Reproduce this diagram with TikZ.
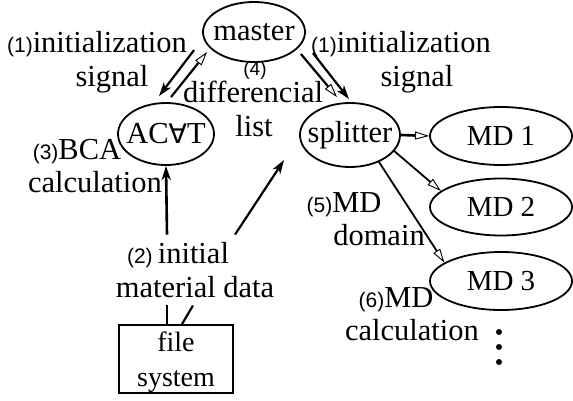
\documentclass[tikz,border=0pt]{standalone}
\usepackage{fontspec}
\setmainfont{Liberation Serif}
\newfontfamily\pnfont{Liberation Sans}
\newfontfamily\djv{DejaVu Sans}
\usetikzlibrary{shapes.geometric,arrows.meta}
\newcommand\pn[1]{{\pnfont\fontsize{21}{21}\selectfont(#1)}}
\newcommand\zwbox[1]{\makebox[0pt]{#1}}
\begin{document}
\begin{tikzpicture}[x=1pt,y=-1pt,font=\fontsize{30.5}{35}\selectfont,
  ell/.style={ellipse,draw,line width=1.8pt,inner sep=0pt},
  mdf/.style={font=\fontsize{29}{35}\selectfont},
  lab/.style={anchor=base,inner sep=0pt},
  ln/.style={line width=2.2pt},
  bh/.style={-{Stealth[length=14pt,width=9pt,inset=4pt]}},
  oh/.style={-{Triangle[length=14pt,width=8pt,fill=white,line width=0.9pt]}}]
\useasboundingbox (0,0) rectangle (573,401);
% nodes
\node[ell,minimum width=102pt,minimum height=60pt] (master) at (254,32) {\zwbox{master}};
\node[ell,minimum width=96pt,minimum height=62pt] (acvt) at (166,134) {\zwbox{AC{\djv\fontsize{27}{30}\selectfont ∀}T}};
\node[ell,minimum width=100pt,minimum height=64pt] (splitter) at (350,135) {\zwbox{splitter}};
\node[ell,mdf,minimum width=142pt,minimum height=58pt] (md1) at (501,136) {\zwbox{MD 1}};
\node[ell,mdf,minimum width=142pt,minimum height=57pt] (md2) at (501,207) {\zwbox{MD 2}};
\node[ell,mdf,minimum width=142pt,minimum height=58pt] (md3) at (501,281) {\zwbox{MD 3}};
\node[draw,line width=1.8pt,minimum width=114pt,minimum height=68pt,align=center,inner sep=0pt,
  text depth=0pt,font=\fontsize{28}{35}\selectfont] (fs) at (176,359) {file\\system};
% labels
\node[lab] (l1a) at (97,53) {\pn{1}initialization};
\node[lab] (l1b) at (112,87) {signal};
\node[lab] (r1a) at (401,53) {\pn{1}initialization};
\node[lab] (r1b) at (417,87) {signal};
\node[lab] (l4a) at (255,76) {{\pnfont\fontsize{19}{19}\selectfont(4)}};
\node[lab] (l4b) at (253,103) {differencial};
\node[lab] (l4c) at (254,137) {list};
\node[lab] (l3a) at (77,160) {\pn{3}BCA};
\node[lab] (l3b) at (95,192) {calculation};
\node[lab] (l2a) at (178,263) {\pn{2}\,initial};
\node[lab] (l2b) at (195,297) {material data};
\node[lab] (l5a) at (344,212) {\pn{5}MD};
\node[lab] (l5b) at (379,245) {domain};
\node[lab] (l6a) at (396,307) {\pn{6}MD};
\node[lab] (l6b) at (412,340) {calculation};
% dots
\fill (499,332) circle (3pt);
\fill (499,347) circle (3pt);
\fill (499,362) circle (3pt);
% connectors
\draw[ln,bh] ([shift={(-8,18)}]master.west) -- ([shift={(-7,-6)}]acvt.north);
\draw[ln,oh] ([shift={(5,-5)}]acvt.north) -- ([shift={(5,20)}]master.west);
\draw[ln,oh] ([shift={(-5,22)}]master.east) -- ([shift={(-13,-5)}]splitter.north);
\draw[ln,bh] ([shift={(7,21)}]master.east) -- ([shift={(-1,-3)}]splitter.north);
\draw[line width=2.6pt,bh] ([shift={(-11,-7)}]l2a.north) -- (acvt.south);
\draw[ln,bh] ([shift={(57,-7)}]l2a.north) -- ([shift={(-15,25)}]splitter.west);
\draw[ln] ([shift={(-28,8)}]l2b.south) -- ([shift={(-9,0)}]fs.north);
\draw[ln] ([shift={(-2,8)}]l2b.south) -- ([shift={(6,0)}]fs.north);
\draw[line width=2.6pt,oh] (splitter.east) -- (md1.west);
\draw[line width=1.8pt,oh] (splitter.-20) -- (md2.165);
\draw[line width=1.8pt,oh] (splitter.-43) -- (md3.162);
\end{tikzpicture}
\end{document}
